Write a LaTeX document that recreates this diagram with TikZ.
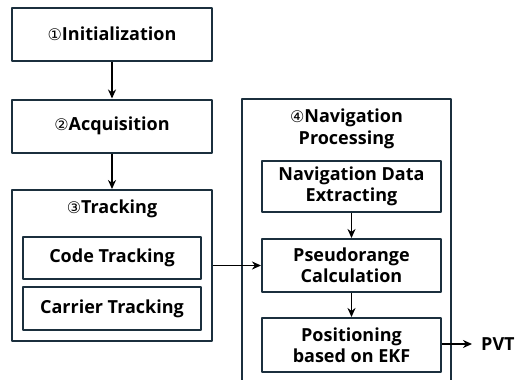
\documentclass[tikz,border=0pt]{standalone}
\usepackage{fontspec}
\usetikzlibrary{arrows.meta}
\setmainfont{Open Sans}
\newfontfamily\symfont{DejaVu Sans}
\newcommand{\stepno}[1]{{\symfont\mdseries\fontsize{16}{18}\selectfont #1}}
\definecolor{boxline}{HTML}{1B2F3D}
\begin{document}
\begin{tikzpicture}[x=1pt, y=-1pt, font=\bfseries\fontsize{18}{21}\selectfont, line join=round, >=stealth,
  blk/.style={draw=boxline, line width=2pt, inner sep=0pt, align=center},
  twoline/.style={font=\bfseries\fontsize{18}{21}\selectfont},
  flow/.style={-{Stealth[length=9pt, width=8pt]}, line width=1.6pt}]
  \useasboundingbox (0,0) rectangle (523,380);
  % left column
  \node[blk, minimum width=200pt, minimum height=53pt] (init) at (112,34) {\stepno{①}Initialization};
  \node[blk, minimum width=200pt, minimum height=53pt] (acq) at (112,126) {\stepno{②}Acquisition};
  \node[blk, minimum width=200pt, minimum height=151pt] (trk) at (112,265.5) {};
  \node (trktitle) at (112,209) {\stepno{③}Tracking};
  \node[blk, minimum width=178pt, minimum height=42pt] (code) at (112,258) {Code Tracking};
  \node[blk, minimum width=178pt, minimum height=43pt] (carr) at (112,308.5) {Carrier Tracking};
  % right column
  \node[blk, minimum width=209pt, minimum height=311pt] (nav) at (346.5,254.5) {};
  \node[align=center, font=\bfseries\fontsize{18}{22}\selectfont] (navtitle) at (346.5,129) {\stepno{④}Navigation\\Processing};
  \node[blk, minimum width=179pt, minimum height=51pt, twoline] (nde) at (351.5,186.5) {Navigation Data\\Extracting};
  \node[blk, minimum width=179pt, minimum height=53pt, twoline] (psr) at (351.5,265.5) {Pseudorange\\Calculation};
  \node[blk, minimum width=179pt, minimum height=54pt, twoline] (pos) at (351.5,345) {Positioning\\based on EKF};
  \node[anchor=west, inner sep=0pt, font=\fontsize{18}{21}\selectfont\bfseries] (pvt) at (481,344) {PVT};
  \coordinate (pvtin) at (472,344);
  % connectors
  \draw[flow] (init) -- (acq);
  \draw[flow] (acq) -- (trk);
  \draw[flow] (nde) -- (psr);
  \draw[flow] (psr) -- (pos);
  \draw[flow] (trk.east |- psr.west) -- (psr.west);
  \draw[flow] (pos.east |- pvtin) -- (pvtin);
\end{tikzpicture}
\end{document}
